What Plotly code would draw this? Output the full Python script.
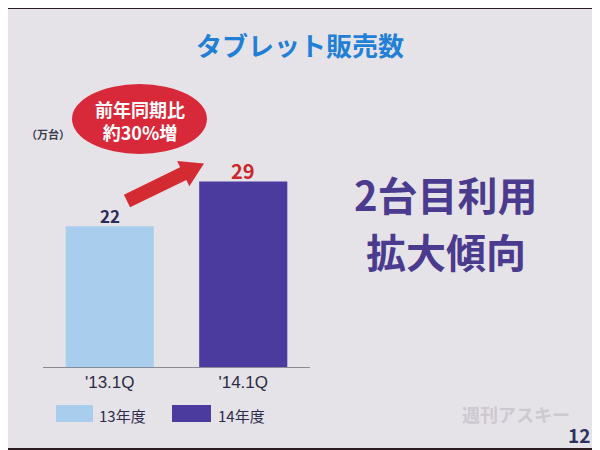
import plotly.graph_objects as go

categories = ["'13.1Q", "'14.1Q"]
series_names = ["13年度", "14年度"]
values = [22, 29]
bar_colors = ["#a9cdec", "#4b3b9e"]
label_colors = ["#2c2c5c", "#c8282e"]
label_sizes = [17, 20]

FONT = "Noto Sans CJK JP"
W, H = 600, 450
OX, OY = 8, 7  # page offset compensation

def px(x):
    return (x - OX) / W

def py(y):
    return 1 - (y - OY) / H

fig = go.Figure()
for i, (cat, name, val) in enumerate(zip(categories, series_names, values)):
    fig.add_trace(go.Bar(
        x=[cat], y=[val], name=name,
        marker=dict(color=bar_colors[i], line=dict(width=0)),
        width=0.66,
        showlegend=False,
    ))

shapes = []
shapes.append(dict(type="rect", xref="paper", yref="paper", layer="below",
                   x0=px(8), x1=px(592), y0=py(447), y1=py(8),
                   fillcolor="#e6e3e8", line=dict(width=0)))
shapes.append(dict(type="circle", xref="paper", yref="paper",
                   x0=px(72), x1=px(207), y0=py(153), y1=py(83),
                   fillcolor="#d8293a", line=dict(width=0)))
pts = [(130.1, 206.3), (186.3, 178.9), (189.3, 185.2), (204, 162.5),
       (177.1, 160.0), (180.1, 166.3), (123.9, 193.7)]
path = "M " + " L ".join(f"{px(x):.5f},{py(y):.5f}" for x, y in pts) + " Z"
shapes.append(dict(type="path", xref="paper", yref="paper", path=path,
                   fillcolor="#d42a32", line=dict(width=0)))
sw = [(56, 93, 404, 421), (172, 211, 404, 421)]
for (x0, x1, y0, y1), c in zip(sw, bar_colors):
    shapes.append(dict(type="rect", xref="paper", yref="paper",
                       x0=px(x0), x1=px(x1), y0=py(y1), y1=py(y0),
                       fillcolor=c, line=dict(width=0)))

ann = []
def text(x, y, s, size, color, bold=True, xanchor="center"):
    ann.append(dict(xref="paper", yref="paper", x=px(x), y=py(y), text=(f"<b>{s}</b>" if bold else s),
                    showarrow=False, xanchor=xanchor, yanchor="middle", align="center",
                    font=dict(family=FONT, size=size, color=color)))

# value labels above bars, positioned through the data axes
for i, (cat, val) in enumerate(zip(categories, values)):
    ann.append(dict(xref="x", yref="y", x=cat, y=val, text=f"<b>{val}</b>",
                    showarrow=False, yanchor="middle", yshift=11,
                    font=dict(family=FONT, size=label_sizes[i], color=label_colors[i])))

text(300, 44, "タブレット販売数", 26, "#1f80d6")
text(140, 120, "前年同期比<br>約30%増", 18, "#ffffff")
text(48, 133, "（万台）", 11, "#3a3a50")
text(446, 193, "2台目利用", 40, "#4b3b8e")
text(446, 250, "拡大傾向", 40, "#4b3b8e")
text(97, 414, series_names[0], 15, "#2c2c4c", bold=False, xanchor="left")
text(216, 414, series_names[1], 15, "#2c2c4c", bold=False, xanchor="left")
text(516, 413, "週刊アスキー", 18, "#cdc9d0", bold=True)
text(579, 433, "12", 19, "#2a3262", bold=True)

fig.update_layout(
    width=W, height=H,
    margin=dict(l=0, r=0, t=0, b=0),
    paper_bgcolor="#2a1c20",
    plot_bgcolor="rgba(0,0,0,0)",
    barmode="overlay",
    shapes=shapes,
    annotations=ann,
    xaxis=dict(domain=[px(43), px(310)], showgrid=False, showline=True,
               linecolor="#8a8a95", linewidth=1, ticks="",
               tickfont=dict(family="Liberation Sans", size=17, color="#2c2c44"),
               fixedrange=True),
    yaxis=dict(domain=[py(366), py(174)], range=[0, 30], visible=False,
               fixedrange=True),
)

fig.write_html("out.html")
